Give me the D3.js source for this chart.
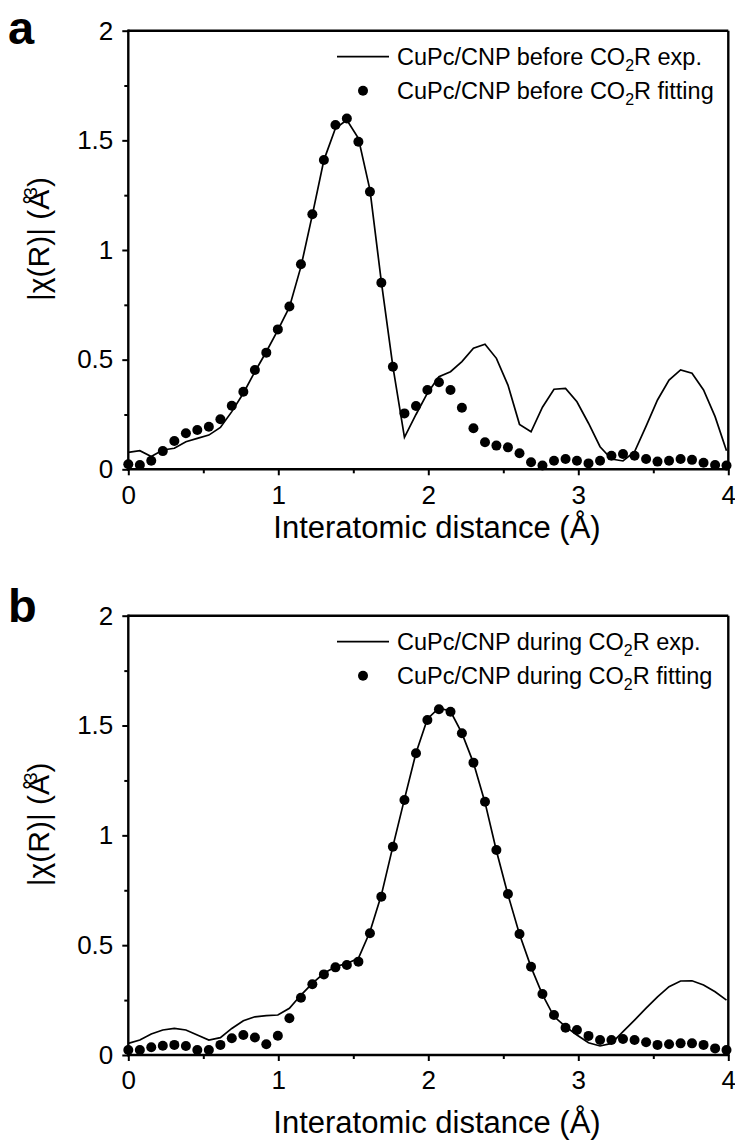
<!DOCTYPE html>
<html><head><meta charset="utf-8">
<script src="https://cdn.jsdelivr.net/npm/d3@7"></script>
<style>body{margin:0;background:#fff}svg{display:block}</style>
</head><body>
<script>
// R grid (Å)
const rGrid = [0.000,0.077,0.153,0.230,0.307,0.384,0.460,0.537,0.614,0.690,0.767,0.844,0.920,0.997,1.074,1.151,1.227,1.304,1.381,1.457,1.534,1.611,1.687,1.764,1.841,1.918,1.994,2.071,2.148,2.224,2.301,2.378,2.454,2.531,2.608,2.685,2.761,2.838,2.915,2.991,3.068,3.145,3.221,3.298,3.375,3.452,3.528,3.605,3.682,3.758,3.835,3.912,3.988];

// Panel a: before CO2R
const beforeExp = [0.077,0.085,0.058,0.088,0.096,0.126,0.141,0.156,0.191,0.263,0.347,0.445,0.536,0.635,0.739,0.924,1.160,1.410,1.555,1.593,1.509,1.274,0.855,0.468,0.146,0.250,0.347,0.422,0.445,0.491,0.552,0.570,0.506,0.384,0.205,0.171,0.283,0.365,0.369,0.308,0.210,0.103,0.047,0.038,0.080,0.197,0.316,0.407,0.453,0.438,0.362,0.240,0.085];
const beforeFit = [0.023,0.020,0.039,0.083,0.129,0.164,0.179,0.194,0.228,0.290,0.354,0.453,0.532,0.638,0.742,0.935,1.163,1.410,1.570,1.600,1.494,1.266,0.851,0.468,0.255,0.289,0.362,0.397,0.362,0.281,0.187,0.123,0.108,0.100,0.073,0.032,0.017,0.039,0.047,0.039,0.027,0.039,0.062,0.070,0.062,0.047,0.035,0.039,0.047,0.043,0.030,0.020,0.017];

// Panel b: during CO2R
const duringExp = [0.053,0.068,0.096,0.114,0.121,0.114,0.091,0.068,0.079,0.121,0.156,0.174,0.179,0.182,0.213,0.273,0.326,0.372,0.402,0.417,0.440,0.561,0.728,0.950,1.165,1.375,1.530,1.580,1.565,1.465,1.330,1.150,0.930,0.730,0.550,0.400,0.275,0.175,0.129,0.091,0.056,0.041,0.053,0.106,0.159,0.213,0.265,0.311,0.337,0.338,0.319,0.288,0.250];
const duringFit = [0.023,0.023,0.035,0.042,0.046,0.041,0.023,0.023,0.046,0.076,0.091,0.080,0.049,0.088,0.167,0.261,0.322,0.367,0.399,0.410,0.425,0.554,0.721,0.948,1.161,1.374,1.525,1.574,1.563,1.465,1.331,1.153,0.933,0.733,0.551,0.402,0.278,0.182,0.124,0.114,0.087,0.068,0.068,0.073,0.068,0.058,0.046,0.049,0.053,0.053,0.046,0.030,0.023];

const xTicks = [0,1,2,3,4];
const xMinorTicks = [0.5,1.5,2.5,3.5];
const yTicks = [0,0.5,1,1.5,2];
const yTickLabels = ["0","0.5","1","1.5","2"];
const yMinorTicks = [0.25,0.75,1.25,1.75];

const panels = [
  {label:"a", cond:"before", exp:beforeExp, fit:beforeFit, top:30.7, bottom:469.3, titleY:538, labelY:44},
  {label:"b", cond:"during", exp:duringExp, fit:duringFit, top:615.7, bottom:1055, titleY:1133, labelY:622}
];

const W = 735, H = 1147;
const left = 128.3, right = 728.3;
const FONT = "Arial, 'Liberation Sans', Helvetica, sans-serif";

const svg = d3.select("body").append("svg").attr("width", W).attr("height", H)
  .style("font-family", FONT);

panels.forEach(p => {
  const x = d3.scaleLinear().domain([0,4]).range([left, right]);
  const y = d3.scaleLinear().domain([0,2]).range([p.bottom, p.top]);
  const g = svg.append("g");

  // data line
  const line = d3.line().x((d,i) => x(rGrid[i])).y(d => y(d));
  g.append("path").datum(p.exp).attr("d", line)
    .attr("fill","none").attr("stroke","#000").attr("stroke-width",1.7).attr("stroke-linejoin","miter");

  // fit dots
  g.selectAll("circle.fit").data(p.fit).enter().append("circle")
    .attr("class","fit").attr("cx",(d,i)=>x(rGrid[i])).attr("cy",d=>y(d)).attr("r",5).attr("fill","#000");

  // frame: top & right
  g.append("line").attr("x1",left).attr("x2",right).attr("y1",p.top).attr("y2",p.top)
    .attr("stroke","#000").attr("stroke-width",2.4);
  g.append("line").attr("x1",right).attr("x2",right).attr("y1",p.top).attr("y2",p.bottom)
    .attr("stroke","#000").attr("stroke-width",2.4);

  // x axis
  const xAxis = d3.axisBottom(x).tickValues(xTicks).tickFormat(d3.format("d")).tickSizeInner(6).tickSizeOuter(0).tickPadding(10);
  const gx = g.append("g").attr("transform",`translate(0,${p.bottom})`).call(xAxis);
  gx.select(".domain").attr("stroke-width",2.4).attr("d",`M${left-1.2},0H${right+1.2}`);
  gx.selectAll(".tick line").attr("stroke-width",2);
  gx.selectAll(".tick text").attr("font-size",26).attr("font-family",FONT).attr("fill","#000");
  g.append("g").attr("transform",`translate(0,${p.bottom})`)
    .call(d3.axisBottom(x).tickValues(xMinorTicks).tickFormat("").tickSizeInner(4).tickSizeOuter(0))
    .call(s => { s.select(".domain").remove(); s.selectAll(".tick line").attr("stroke-width",2); });

  // y axis
  const yAxis = d3.axisLeft(y).tickValues(yTicks).tickFormat((d,i)=>yTickLabels[i]).tickSizeInner(6).tickSizeOuter(0).tickPadding(9);
  const gy = g.append("g").attr("transform",`translate(${left},0)`).call(yAxis);
  gy.select(".domain").attr("stroke-width",2.4).attr("d",`M0,${p.top-1.2}V${p.bottom+1.2}`);
  gy.selectAll(".tick line").attr("stroke-width",2);
  gy.selectAll(".tick text").attr("font-size",26).attr("font-family",FONT).attr("fill","#000");
  g.append("g").attr("transform",`translate(${left},0)`)
    .call(d3.axisLeft(y).tickValues(yMinorTicks).tickFormat("").tickSizeInner(4).tickSizeOuter(0))
    .call(s => { s.select(".domain").remove(); s.selectAll(".tick line").attr("stroke-width",2); });

  // x title
  g.append("text").attr("x", 437).attr("y", p.titleY).attr("text-anchor","middle")
    .attr("font-size",31).attr("fill","#000").text("Interatomic distance (Å)");

  // y title
  const cy = (p.top + p.bottom)/2 - 11;
  const yt = g.append("text").attr("transform",`translate(49,${cy}) rotate(-90)`).attr("text-anchor","middle")
    .attr("font-size",30).attr("fill","#000");
  yt.append("tspan").text("|χ(R)| (Å");
  yt.append("tspan").attr("font-size",19).attr("dx",-8).attr("dy",-12).text("3");
  yt.append("tspan").attr("dy",12).text(")");

  // panel label
  g.append("text").attr("x",8).attr("y",p.labelY).attr("font-size",47).attr("font-weight","bold").attr("fill","#000").text(p.label);

  // legend
  const ly1 = p.top + 26, ly2 = p.top + 60;
  g.append("line").attr("x1",337).attr("x2",389).attr("y1",ly1).attr("y2",ly1).attr("stroke","#000").attr("stroke-width",1.7);
  g.append("circle").attr("cx",363).attr("cy",ly2).attr("r",5).attr("fill","#000");
  const rows = [[ly1,"exp."],[ly2,"fitting"]];
  rows.forEach(([ly, suffix]) => {
    const t = g.append("text").attr("x",397).attr("y",ly+8.5).attr("font-size",23.5).attr("fill","#000");
    t.append("tspan").text(`CuPc/CNP ${p.cond} CO`);
    t.append("tspan").attr("font-size",16).attr("dy",6).text("2");
    t.append("tspan").attr("dy",-6).text(`R ${suffix}`);
  });
});
</script>
</body></html>
